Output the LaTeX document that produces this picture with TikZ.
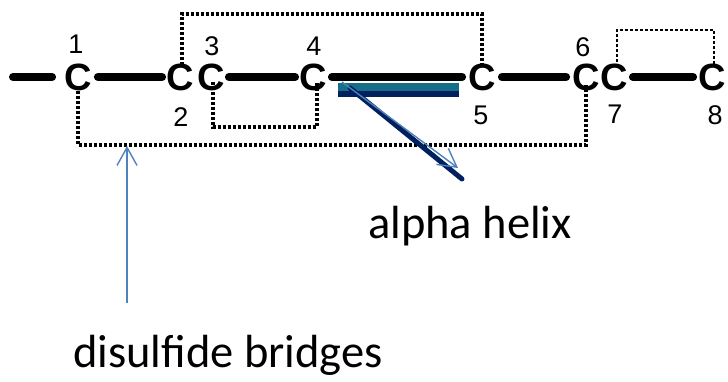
\documentclass[tikz,border=0pt]{standalone}
\usepackage{fontspec}
\setmainfont{Carlito}
\newfontfamily\atomfont{Liberation Sans}
\usetikzlibrary{arrows.meta}
\definecolor{helixteal}{RGB}{22,111,136}
\definecolor{helixnavy}{RGB}{0,32,96}
\definecolor{calloutblue}{RGB}{79,129,189}
\tikzset{
  atom/.style={inner sep=0pt, font=\atomfont\bfseries\fontsize{38}{38}\selectfont},
  resnum/.style={inner sep=0pt, font=\atomfont\fontsize{27}{27}\selectfont},
  bond/.style={line width=8pt, line cap=round},
  bridge/.style={line width=3.4pt, dash pattern=on 3.6pt off 1.4pt},
  callout/.style={draw=calloutblue, line width=1.4pt,
    -{Straight Barb[length=18pt,width=20pt,line width=1.4pt]}},
  caption/.style={inner sep=0pt, anchor=base west, font=\fontsize{46.5}{46.5}\selectfont}
}
\begin{document}
\begin{tikzpicture}[x=1pt,y=-1pt]
\useasboundingbox (0,0) rectangle (728,382);

% cysteine carbons along the chain
\node[atom] (c1) at (78,77) {C};
\node[atom] (c2) at (180,77) {C};
\node[atom] (c3) at (211,77) {C};
\node[atom] (c4) at (313,77) {C};
\node[atom] (c5) at (482,77) {C};
\node[atom] (c6) at (586,77) {C};
\node[atom] (c7) at (614,77) {C};
\node[atom] (c8) at (712,77) {C};

% position numbers
\node[resnum] (n1) at (76,44) {1};
\node[resnum] (n2) at (181,117) {2};
\node[resnum] (n3) at (212,46) {3};
\node[resnum] (n4) at (314,46) {4};
\node[resnum] (n5) at (481,115) {5};
\node[resnum] (n6) at (583,47) {6};
\node[resnum] (n7) at (615,114) {7};
\node[resnum] (n8) at (715,115) {8};

% backbone bonds
\coordinate (chainstart) at (13,77);
\draw[bond] (chainstart) -- ([xshift=-12pt]c1.west);
\draw[bond] ([xshift=6pt]c1.east) -- ([xshift=-4pt]c2.west);
\draw[bond] ([xshift=4pt]c3.east) -- ([xshift=-4pt]c4.west);
\draw[bond] ([xshift=5pt]c4.east) -- ([xshift=-6pt]c5.west);
\draw[bond] ([xshift=6pt]c5.east) -- ([xshift=-6pt]c6.west);
\draw[bond] ([xshift=5pt]c7.east) -- ([xshift=-5pt]c8.west);

% disulfide bridges
\draw[bridge] ([xshift=2pt,yshift=-2pt]c2.north) |- (182,14) -| ([yshift=-3pt]c5.north);
\draw[bridge] ([yshift=5pt]c1.south) |- (584,145) -| ([yshift=6pt]c6.south);
\draw[bridge] ([xshift=2pt,yshift=9pt]c3.south) |- (317,127) -| ([xshift=4pt,yshift=9pt]c4.south);
\draw[bridge, line width=2.8pt] ([xshift=3pt,yshift=-4pt]c7.north) |- (714,30) -| ([xshift=2pt,yshift=-4pt]c8.north);

% alpha helix bar
\fill[helixteal] (338,83) rectangle (459,91);
\fill[helixnavy] (338,91) rectangle (459,97);
\coordinate (helixtail) at (350,88);
\coordinate (helixend) at (462,179);
\draw[helixnavy, line width=5pt, line cap=round] (helixtail) -- (helixend);
\coordinate (helixfrom) at (342,82);
\coordinate (helixtip) at (458,168);
\draw[callout] (helixfrom) -- (helixtip);

% labels and their callouts
\node[caption] (helixlabel) at (368,239) {alpha helix};
\node[caption] (bridgelabel) at (73,367) {disulfide bridges};
\coordinate (bridgefrom) at (127,303);
\coordinate (bridgetip) at (127,146);
\draw[callout] (bridgefrom) -- (bridgetip);
\end{tikzpicture}
\end{document}
